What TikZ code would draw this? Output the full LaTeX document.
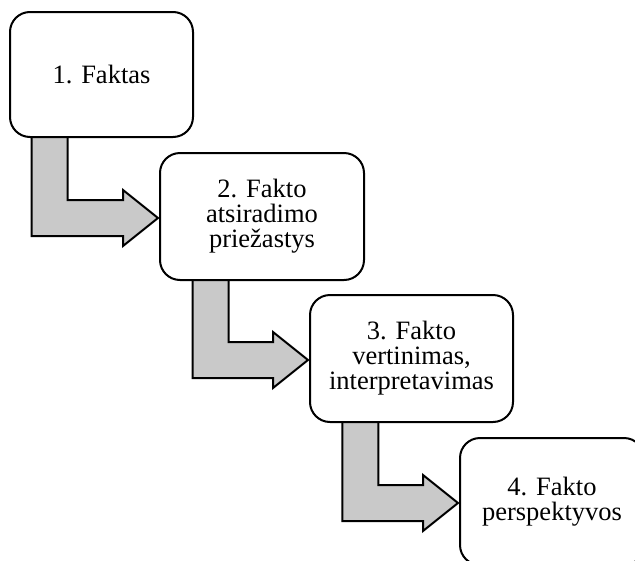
\documentclass[tikz,border=0pt]{standalone}
\usepackage{fontspec}
\newfontfamily\stagefont{Liberation Serif}
\usetikzlibrary{calc,backgrounds}

% bent block arrow from the bottom of one box to the side of the next
% #3 = where the shaft leaves the bottom edge (fraction of the width)
\newcommand\bentarrow[3]{%
  \path[steparrow] let \p1 = ($(#1.south west)!#3!(#1.south east)$), \p2 = ($(#2.west)+(0,1.5)$) in
    (\x1-18pt,\y1+4pt) -- (\x1-18pt,\y2-18pt) -- (\x2-36pt,\y2-18pt) -- (\x2-36pt,\y2-28pt)
    -- (\x2-1pt,\y2) -- (\x2-36pt,\y2+28pt) -- (\x2-36pt,\y2+18pt) -- (\x1+18pt,\y2+18pt)
    -- (\x1+18pt,\y1+4pt) -- cycle;
}

\begin{document}
\begin{tikzpicture}[
    x=1pt, y=-1pt,
    stage/.style={rectangle, draw, line width=2pt, fill=white, rounded corners=20pt,
      align=center, inner sep=0pt, font=\stagefont\fontsize{26.5}{25}\selectfont},
    steparrow/.style={draw, line width=2pt, fill=black!21, line join=miter}
]
    \useasboundingbox (0,0) rectangle (635,560);
    \clip (0,0) rectangle (635,560);

    % etapai
    \node[stage, minimum width=183pt, minimum height=125pt] (faktas) at (101.5,74.5) {1. Faktas};
    \node[stage, minimum width=204pt, minimum height=127pt] (priezastys) at (262,216.5) {2. Fakto\\atsiradimo\\priežastys};
    \node[stage, minimum width=203pt, minimum height=127pt] (vertinimas) at (411.5,358.5) {3. Fakto\\vertinimas,\\interpretavimas};
    \node[stage, minimum width=184pt, minimum height=127pt] (perspektyvos) at (552,501.5) {4. Fakto\\perspektyvos};

    % rodyklės
    \begin{scope}[on background layer]
        \bentarrow{faktas}{priezastys}{0.22}
        \bentarrow{priezastys}{vertinimas}{0.25}
        \bentarrow{vertinimas}{perspektyvos}{0.25}
    \end{scope}
\end{tikzpicture}
\end{document}
